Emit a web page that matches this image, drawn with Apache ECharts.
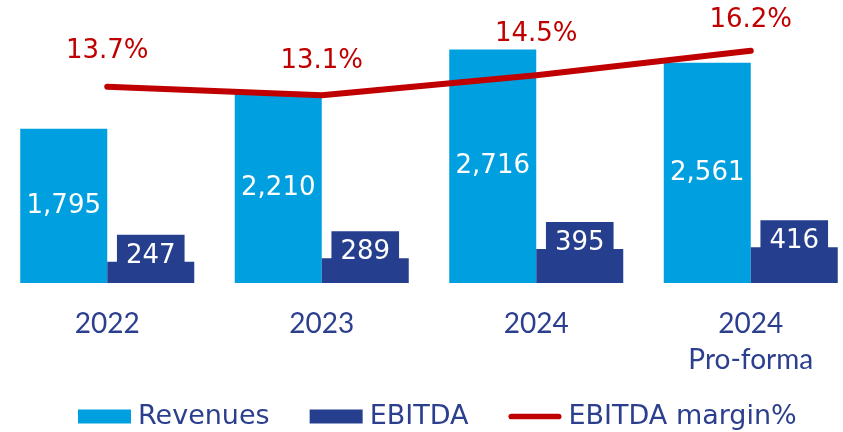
<!DOCTYPE html>
<html>
<head>
<meta charset="utf-8">
<script src="https://cdn.jsdelivr.net/npm/echarts@6/dist/echarts.min.js"></script>
<style>html,body{margin:0;padding:0;background:#fff}#c{width:843px;height:432px}</style>
</head>
<body>
<div id="c"></div>
<script>
const categories = ['2022', '2023', '2024', '2024\nPro-forma'];
const revenues = [1795, 2210, 2716, 2561];
const ebitda = [247, 289, 395, 416];
const ebitdaMargin = [13.7, 13.1, 14.5, 16.2];
const marginLabelDistance = [22, 20, 27, 17];

const C_REV = '#009FDF';
const C_EBITDA = '#253E8E';
const C_RED = '#C00000';
const C_TEXT = '#2B3F8E';

const chart = echarts.init(document.getElementById('c'));
chart.setOption({
  animation: false,
  grid: { left: 0, right: -15, top: 25, bottom: 149, containLabel: false, outerBoundsMode: 'none' },
  legend: {
    left: 73, top: 398,
    itemWidth: 53, itemHeight: 14, itemGap: 40,
    textStyle: { fontFamily: 'DejaVu Sans', fontSize: 27, color: C_TEXT, padding: [0, 0, 0, 2] },
    data: [
      { name: 'Revenues', icon: 'rect' },
      { name: 'EBITDA', icon: 'rect' },
      { name: 'EBITDA margin%', icon: 'path://M0,0 M56,14 M3,4 L53,4 Q56,4 56,7 Q56,10 53,10 L3,10 Q0,10 0,7 Q0,4 3,4 Z', itemStyle: { color: C_RED } }
    ]
  },
  xAxis: {
    type: 'category',
    data: categories,
    axisLine: { show: false },
    axisTick: { show: false },
    axisLabel: { fontFamily: 'Lato', fontSize: 28, color: C_TEXT, margin: 23, lineHeight: 36 }
  },
  yAxis: [
    { type: 'value', min: 0, max: 3000, show: false, splitLine: { show: false } },
    { type: 'value', min: 0, max: 18, show: false, splitLine: { show: false } }
  ],
  series: [
    {
      name: 'Revenues', type: 'bar', data: revenues,
      barWidth: 87, barGap: '0%',
      itemStyle: { color: C_REV },
      label: {
        show: true, position: 'inside', color: '#fff',
        fontFamily: 'DejaVu Sans', fontSize: 26,
        formatter: p => p.value.toLocaleString('en-US')
      }
    },
    {
      name: 'EBITDA', type: 'bar', data: ebitda,
      barWidth: 87, barGap: '0%',
      itemStyle: { color: C_EBITDA },
      label: {
        show: true, position: 'top', distance: -15, color: '#fff',
        fontFamily: 'DejaVu Sans', fontSize: 26, lineHeight: 26,
        backgroundColor: C_EBITDA, padding: [8, 9, 8, 9],
        formatter: p => p.value.toLocaleString('en-US')
      }
    },
    {
      name: 'EBITDA margin%', type: 'line', yAxisIndex: 1, z: 5,
      data: ebitdaMargin.map((v, i) => ({ value: v, label: { distance: marginLabelDistance[i] } })),
      symbol: 'circle', symbolSize: 1,
      itemStyle: { color: C_RED },
      lineStyle: { color: C_RED, width: 6, cap: 'round', join: 'round' },
      label: {
        show: true, position: 'top', color: C_RED,
        fontFamily: 'DejaVu Sans', fontSize: 26,
        formatter: p => p.value.toFixed(1) + '%'
      }
    }
  ]
});
</script>
</body>
</html>
